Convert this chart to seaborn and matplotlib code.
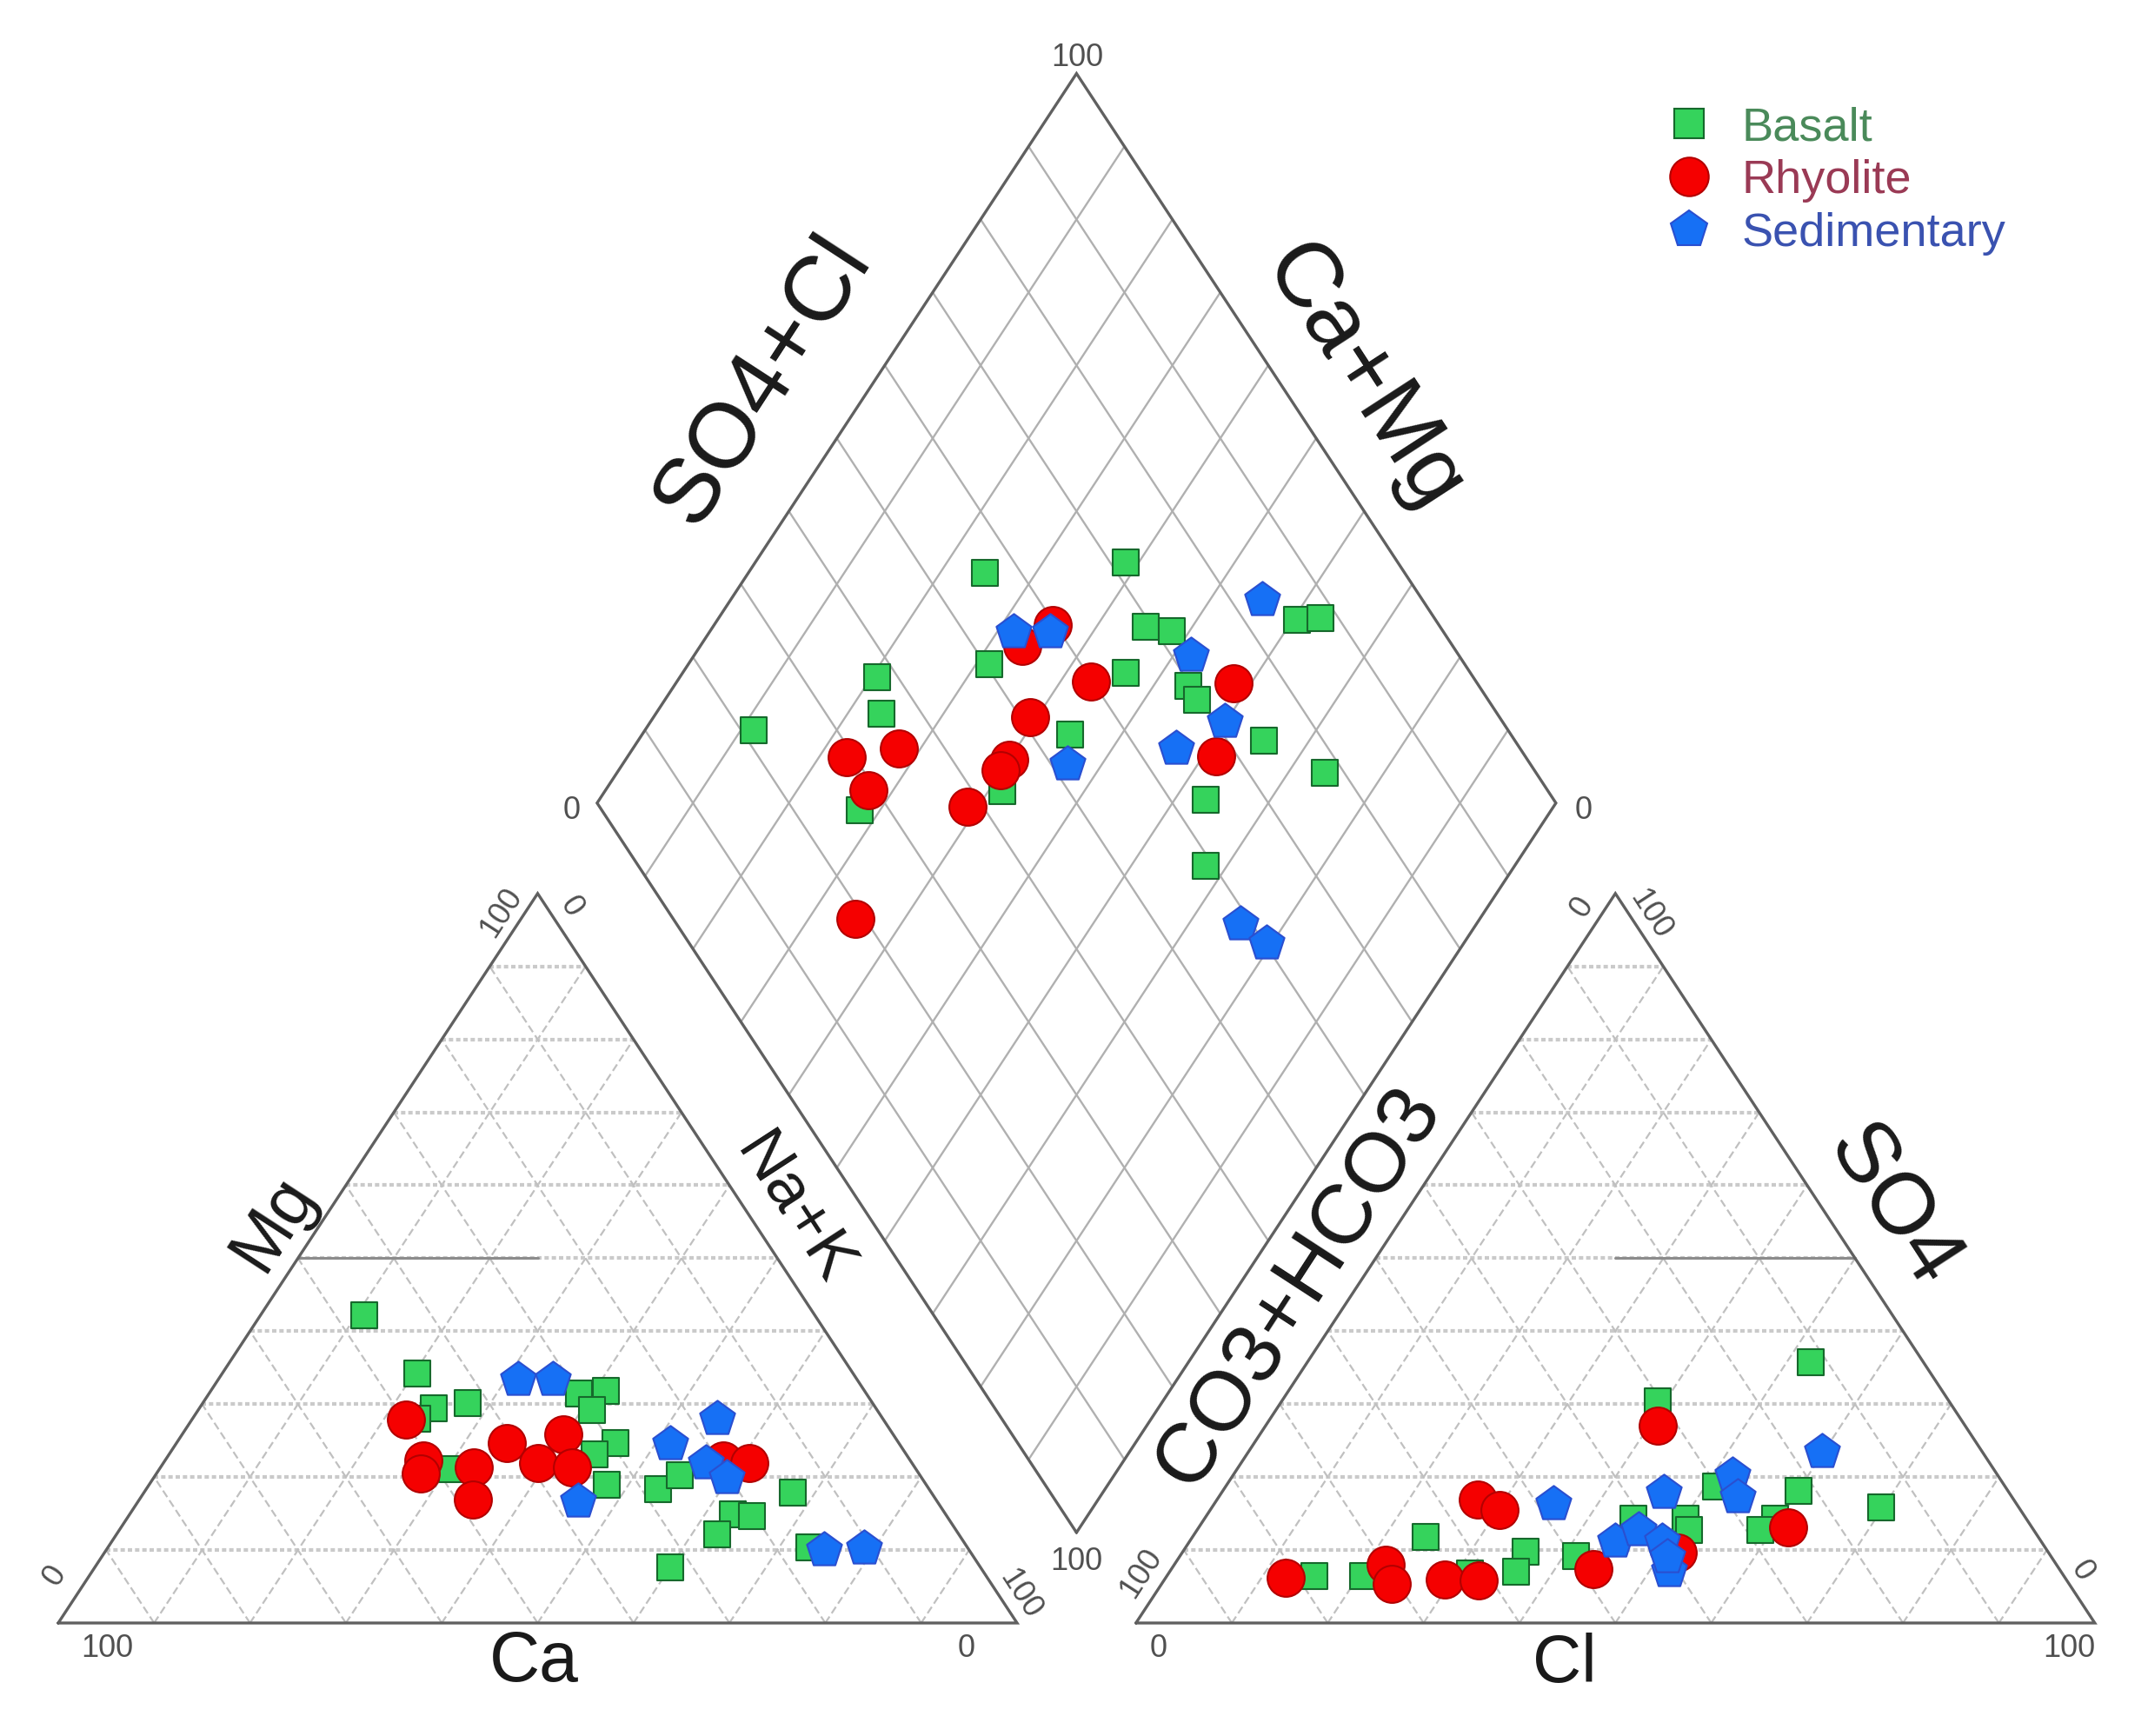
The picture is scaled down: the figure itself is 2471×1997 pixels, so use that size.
import numpy as np
import pandas as pd
import matplotlib
matplotlib.use("Agg")
import matplotlib.pyplot as plt
import seaborn as sns
from matplotlib.lines import Line2D

# ---------------- data (percent of meq/L) ----------------
groups = ["Basalt", "Rhyolite", "Sedimentary"]

# Cation triangle: Mg and Na+K (Ca = 100 - Mg - Na+K)
basalt_mg = [42.2, 34.2, 29.4, 30.2, 28.0, 31.4, 31.8, 29.2, 24.7, 23.1, 18.9, 21.1, 18.3, 20.3, 17.9, 14.9, 14.7, 12.2, 7.6, 10.4]
basalt_nak = [10.8, 20.3, 24.5, 27.6, 23.4, 38.6, 41.2, 41.1, 45.8, 44.4, 47.8, 30.5, 53.4, 54.7, 67.7, 62.9, 65.0, 62.6, 60.0, 73.1]
rhyolite_mg = [27.9, 22.3, 20.5, 21.3, 16.9, 24.7, 21.9, 25.9, 21.3, 22.3, 21.9]
rhyolite_nak = [22.3, 26.9, 27.6, 32.7, 34.8, 34.4, 39.1, 39.7, 42.9, 58.2, 61.1]
sed_mg = [33.4, 33.4, 28.0, 24.5, 21.9, 19.9, 16.7, 10.0, 10.2]
sed_nak = [31.3, 34.9, 54.7, 51.6, 56.6, 59.8, 45.9, 74.9, 78.9]

# Anion triangle: SO4 and Cl (CO3+HCO3 = 100 - SO4 - Cl)
basalt_so4 = [35.8, 30.4, 18.1, 15.9, 18.7, 14.3, 12.8, 14.3, 12.8, 11.8, 9.8, 7.0, 9.2, 14.3, 6.4, 6.4, 6.8]
basalt_cl = [52.5, 39.2, 60.1, 69.8, 51.1, 59.5, 58.7, 50.2, 51.3, 24.3, 35.7, 36.1, 41.3, 44.7, 15.4, 20.5, 31.4]
rhyolite_so4 = [27.1, 16.9, 15.5, 13.1, 7.4, 6.2, 8.0, 5.4, 6.0, 5.8, 9.6]
rhyolite_cl = [40.9, 27.2, 30.2, 61.5, 44.0, 12.5, 22.0, 24.0, 29.2, 32.8, 51.7]
sed_so4 = [23.5, 20.3, 17.3, 17.9, 16.3, 11.2, 12.8, 11.2, 7.2, 9.0]
sed_cl = [59.8, 52.1, 54.1, 46.1, 35.4, 44.4, 46.0, 49.3, 52.0, 50.9]

# Diamond: SO4+Cl and Ca+Mg
basalt_so4cl = [56.2, 71.6, 69.3, 71.7, 85.5, 88.1, 50.4, 37.8, 35.8, 21.3, 64.1, 69.7, 69.7, 54.0, 43.1, 26.9, 73.8, 78.0, 63.7, 59.2]
basalt_camg = [75.3, 61.4, 54.9, 51.9, 39.6, 37.2, 68.6, 79.4, 76.5, 88.7, 53.8, 46.4, 44.5, 55.4, 58.5, 72.1, 34.7, 26.2, 36.7, 32.2]
rhyolite_so4cl = [59.7, 55.1, 59.9, 74.6, 51.1, 35.2, 29.2, 29.2, 45.9, 44.3, 38.4, 67.8, 19.0]
rhyolite_camg = [64.7, 66.4, 56.8, 41.8, 60.7, 72.3, 77.1, 72.6, 60.0, 60.2, 61.1, 38.6, 65.1]
sed_so4cl = [55.1, 59.0, 83.3, 72.0, 71.1, 64.1, 51.7, 58.8, 60.2]
sed_camg = [68.3, 64.5, 44.6, 48.2, 40.1, 43.4, 53.6, 24.6, 20.6]

cation = {"Basalt": (basalt_mg, basalt_nak), "Rhyolite": (rhyolite_mg, rhyolite_nak), "Sedimentary": (sed_mg, sed_nak)}
anion = {"Basalt": (basalt_so4, basalt_cl), "Rhyolite": (rhyolite_so4, rhyolite_cl), "Sedimentary": (sed_so4, sed_cl)}
diamond = {"Basalt": (basalt_so4cl, basalt_camg), "Rhyolite": (rhyolite_so4cl, rhyolite_camg), "Sedimentary": (sed_so4cl, sed_camg)}

# ---------------- geometry ----------------
G = 0.124
H = np.sqrt(3) / 2


def cation_xy(mg, nak):
    m = np.asarray(mg) / 100.0
    n = np.asarray(nak) / 100.0
    return n + m / 2, m * H


def anion_xy(so4, cl):
    s = np.asarray(so4) / 100.0
    c = np.asarray(cl) / 100.0
    return 1 + G + c + s / 2, s * H


def diamond_xy(so4cl, camg):
    a = np.asarray(so4cl) / 100.0
    b = np.asarray(camg) / 100.0
    return 1 + G / 2 + 0.5 * (a - b), G * H + H * (a + b)


rows = []
for g in groups:
    for fn, src in ((cation_xy, cation), (anion_xy, anion), (diamond_xy, diamond)):
        xs, ys = fn(*src[g])
        for x, y in zip(xs, ys):
            rows.append({"group": g, "x": x, "y": y})
df = pd.DataFrame(rows)

# ---------------- figure ----------------
sns.set_theme(style="white")
plt.rcParams["font.family"] = ["Liberation Sans", "DejaVu Sans"]

W_PX, H_PX = 2471, 1997
X0, UX, BASE, UY = 67, 1103, 1867, 969
fig = plt.figure(figsize=(W_PX / 100, H_PX / 100), dpi=100)
ax = fig.add_axes([0, 0, 1, 1])
ax.set_xlim(-X0 / UX, (W_PX - X0) / UX)
ax.set_ylim((BASE - H_PX) / UY, BASE / UY)
ax.axis("off")


def P(px, py):
    return (px - X0) / UX, (BASE - py) / UY


grid_h = dict(color="#cacaca", lw=3.0, ls=(0, (1.2, 0.8)), zorder=1)
grid_s = dict(color="#c0c0c0", lw=1.6, ls=(0, (4, 2)), zorder=1)
edge = dict(color="#606060", lw=2.4, zorder=3, solid_joinstyle="miter")

for ox in (0.0, 1 + G):
    for k in range(1, 10):
        f = k / 10
        ax.plot([ox + f / 2, ox + 1 - f / 2], [f * H, f * H], **grid_h)
        ax.plot([ox + f, ox + f + (1 - f) / 2], [0, (1 - f) * H], **grid_s)
        ax.plot([ox + f, ox + f / 2], [0, f * H], **grid_s)
    ax.plot([ox, ox + 1, ox + 0.5, ox], [0, 0, H, 0], **edge)

# classification half-lines
ax.plot([0.25, 0.5], [H / 2, H / 2], color="#8c8c8c", lw=2.2, zorder=2)
ax.plot([1 + G + 0.5, 1 + G + 0.75], [H / 2, H / 2], color="#8c8c8c", lw=2.2, zorder=2)

# diamond
bx, by = 1 + G / 2, G * H
for k in range(1, 10):
    f = k / 10
    sx, sy = bx + 0.5 * f, by + H * f
    ax.plot([sx, sx - 0.5], [sy, sy + H], color="#b0b0b0", lw=1.7, zorder=1)
    sx, sy = bx - 0.5 * f, by + H * f
    ax.plot([sx, sx + 0.5], [sy, sy + H], color="#b0b0b0", lw=1.7, zorder=1)
ax.plot([bx, bx + 0.5, bx, bx - 0.5, bx], [by, by + H, by + 2 * H, by + H, by], **edge)

# ---------------- points ----------------
style = {
    "Basalt": dict(marker="s", s=490, color="#35d35c", edgecolor="#16692c"),
    "Rhyolite": dict(marker="o", s=950, color="#f50000", edgecolor="#b30000"),
    "Sedimentary": dict(marker="p", s=930, color="#1670f5", edgecolor="#2a4fd0"),
}
for g in groups:
    sub = df[df["group"] == g]
    sns.scatterplot(data=sub, x="x", y="y", ax=ax, linewidth=1.5, legend=False, zorder=5, **style[g])
ax.set_xlabel("")
ax.set_ylabel("")

# ---------------- tick labels ----------------
ROT = 57
tick_kw = dict(fontsize=26, color="#505050", ha="center", va="center", zorder=6)
ticks = [
    ("100", 1239, 66, 0), ("0", 658, 932, 0), ("0", 1822, 932, 0), ("100", 1238, 1797, 0),
    ("0", 63, 1812, ROT), ("100", 123, 1897, 0), ("0", 1112, 1897, 0), ("100", 1174, 1834, -ROT),
    ("100", 577, 1050, ROT), ("0", 657, 1043, -ROT),
    ("100", 1313, 1810, ROT), ("0", 1333, 1897, 0), ("100", 2380, 1897, 0), ("0", 2395, 1807, -ROT),
    ("0", 1820, 1043, ROT), ("100", 1899, 1052, -ROT),
]
for t, px_, py_, r in ticks:
    ax.text(*P(px_, py_), t, rotation=r, rotation_mode="anchor", **tick_kw)

# ---------------- axis titles ----------------
lab_kw = dict(color="#1a1a1a", ha="center", va="center", rotation_mode="anchor", zorder=6)
labels = [
    ("Ca", 614, 1913, 0, 58), ("Cl", 1800, 1915, 0, 56),
    ("Mg", 315, 1407, ROT, 58), ("Na+K", 913, 1392, -ROT, 54),
    ("SO4+Cl", 878, 438, ROT, 76), ("Ca+Mg", 1568, 435, -ROT, 76),
    ("CO3+HCO3", 1494, 1481, ROT, 70), ("SO4", 2177, 1388, -ROT, 72),
]
for t, px_, py_, r, fs in labels:
    ax.text(*P(px_, py_), t, rotation=r, fontsize=fs, **lab_kw)

# ---------------- legend ----------------
handles = [
    Line2D([], [], ls="none", marker="s", markersize=25, markerfacecolor="#35d35c", markeredgecolor="#16692c", markeredgewidth=1.5),
    Line2D([], [], ls="none", marker="o", markersize=32, markerfacecolor="#f50000", markeredgecolor="#b30000", markeredgewidth=1.5),
    Line2D([], [], ls="none", marker="p", markersize=32, markerfacecolor="#1670f5", markeredgecolor="#2a4fd0", markeredgewidth=1.5),
]
ax.legend(handles, groups, loc="upper left", bbox_to_anchor=(1916 / W_PX, 1 - 122 / H_PX),
          bbox_transform=fig.transFigure, frameon=False, fontsize=39, handlelength=1.0,
          handletextpad=0.62, labelspacing=0.2, borderpad=0, borderaxespad=0,
          labelcolor=["#4a8a5a", "#9a3a55", "#3a52b0"])

fig.savefig("out.png", dpi=100)
